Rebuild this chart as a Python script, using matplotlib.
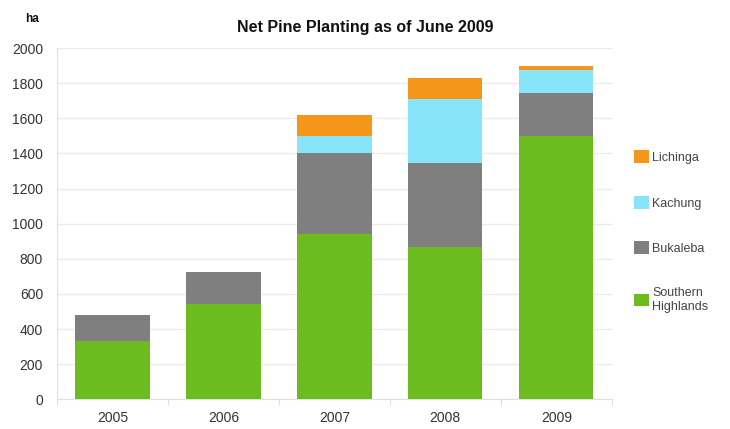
import matplotlib.pyplot as plt
import numpy as np

years = ['2005', '2006', '2007', '2008', '2009']
southern_highlands = [330, 545, 940, 870, 1500]
bukaleba = [150, 180, 460, 475, 245]
kachung = [0, 0, 100, 365, 130]
lichinga = [0, 0, 120, 120, 25]

series = [
    ('Southern\nHighlands', southern_highlands, '#6cbb1f'),
    ('Bukaleba', bukaleba, '#7f7f7f'),
    ('Kachung', kachung, '#88e4f8'),
    ('Lichinga', lichinga, '#f3961a'),
]

plt.rcParams['font.family'] = ['Liberation Sans', 'DejaVu Sans']

fig = plt.figure(figsize=(7.3, 4.29), dpi=100)
ax = fig.add_axes([0.078, 0.069, 0.76, 0.819])

x = np.arange(len(years))
bottom = np.zeros(len(years))
handles = []
for label, values, color in series:
    bars = ax.bar(x, values, width=0.67, bottom=bottom, color=color, label=label,
                  zorder=3)
    handles.append(bars)
    bottom += np.array(values)

ax.set_xlim(-0.5, len(years) - 0.5)
ax.set_ylim(0, 2000)
ax.set_yticks(range(0, 2001, 200))
ax.set_xticks(x)
ax.set_xticklabels(years)
ax.set_xticks(np.arange(-0.5, len(years)), minor=True)
ax.tick_params(axis='x', which='major', length=0, pad=8, labelsize=10, labelcolor='#333333')
ax.tick_params(axis='x', which='minor', length=4, color='#d9d9d9')
ax.tick_params(axis='y', length=0, pad=10, labelsize=10, labelcolor='#333333')
ax.grid(axis='y', color='#ebebeb', linewidth=1, zorder=0)

for side in ['top', 'right']:
    ax.spines[side].set_visible(False)
for side in ['left', 'bottom']:
    ax.spines[side].set_color('#e0e0e0')

fig.text(0.5, 0.937, 'Net Pine Planting as of June 2009', ha='center', va='center',
         fontsize=11.5, fontweight='bold', color='#111111')
fig.text(0.044, 0.955, 'ha', ha='center', va='center', fontsize=8.5,
         fontweight='bold', color='#111111')

# legend reads top-down in the same order as the stack
leg = fig.legend(handles[::-1], [s[0] for s in series[::-1]],
                 loc='upper left', bbox_to_anchor=(0.86, 0.664),
                 frameon=False, fontsize=9, labelcolor='#444444',
                 handlelength=1.2, handleheight=1.2, handletextpad=0.25,
                 labelspacing=2.55, borderpad=0)

fig.savefig('out.png', dpi=100)
